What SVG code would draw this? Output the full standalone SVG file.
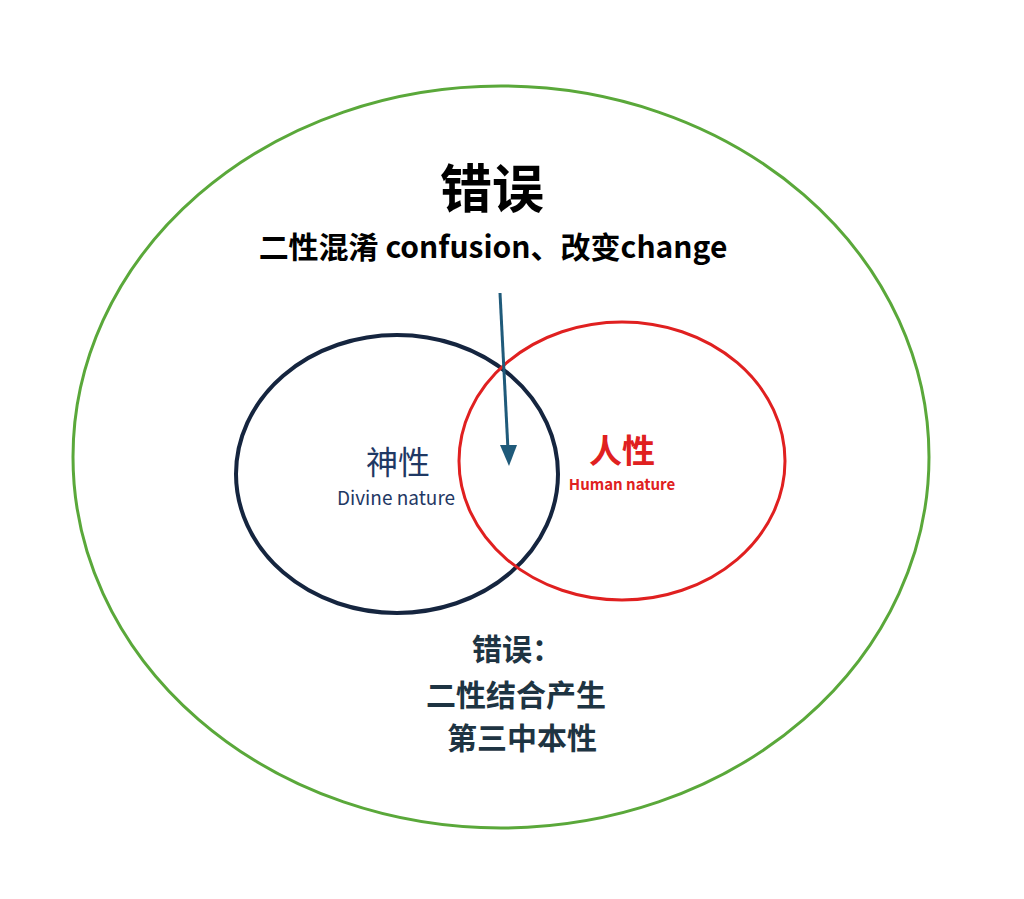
<svg xmlns="http://www.w3.org/2000/svg" width="1024" height="899" viewBox="0 0 1024 899">
<style>
.t{font-family:"Noto Sans CJK SC","Noto Sans",sans-serif;text-anchor:middle}
.b{font-weight:bold}
.ring{fill:none}
</style>
<rect width="1024" height="899" fill="#ffffff"/>
<g id="outer">
<ellipse class="ring" cx="501" cy="457" rx="428" ry="371" stroke="#5aa83a" stroke-width="3"/>
<text class="t b" x="492" y="208" font-size="52" fill="#000">错误</text>
<text class="t b" x="493" y="258" font-size="30" fill="#000">二性混淆 confusion、改变change</text>
</g>
<g id="divine">
<ellipse class="ring" cx="397" cy="474" rx="161" ry="139" stroke="#15253f" stroke-width="4"/>
<text class="t" x="398" y="474" font-size="32" fill="#1f3864">神性</text>
<text class="t" x="396" y="505" font-size="19" fill="#1f3864">Divine nature</text>
</g>
<g id="human">
<ellipse class="ring" cx="622" cy="461" rx="163" ry="139" stroke="#e02020" stroke-width="3"/>
<text class="t b" x="622" y="463" font-size="33" fill="#e02020">人性</text>
<text class="t b" x="622" y="490" font-size="15" fill="#e02020">Human nature</text>
</g>
<g id="error2">
<text class="t b" x="517" y="660" font-size="30" fill="#1e3442">错误：</text>
<text class="t b" x="516" y="706" font-size="30" fill="#1e3442">二性结合产生</text>
<text class="t b" x="522" y="749" font-size="30" fill="#1e3442">第三中本性</text>
</g>
<g id="connectors">
<line x1="500" y1="293" x2="508" y2="450" stroke="#1f5a7a" stroke-width="3"/>
<path d="M500,445 L517,445 L509,466 Z" fill="#1f5a7a"/>
</g>
</svg>
